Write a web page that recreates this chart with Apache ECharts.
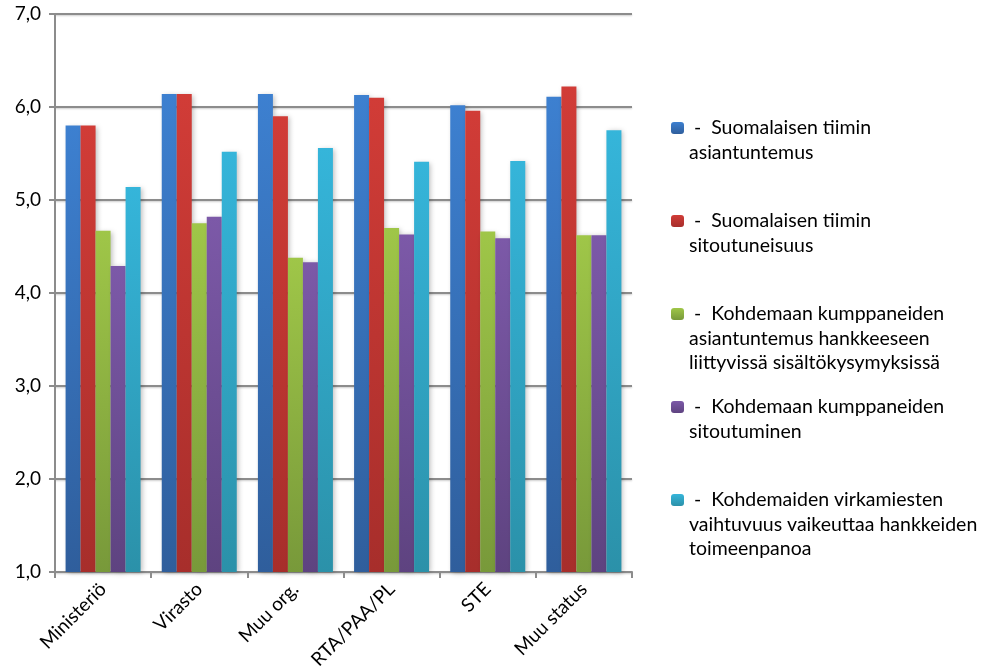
<!DOCTYPE html>
<html>
<head>
<meta charset="utf-8">
<script src="https://cdn.jsdelivr.net/npm/echarts@6/dist/echarts.min.js"></script>
<style>html,body{margin:0;padding:0;background:#fff}#c{width:985px;height:672px}</style>
</head>
<body>
<div id="c"></div>
<script>
var categories = ['Ministeriö', 'Virasto', 'Muu org.', 'RTA/PAA/PL', 'STE', 'Muu status'];
var seriesNames = [
  'Suomalaisen tiimin\nasiantuntemus',
  'Suomalaisen tiimin\nsitoutuneisuus',
  'Kohdemaan kumppaneiden\nasiantuntemus hankkeeseen\nliittyvissä sisältökysymyksissä',
  'Kohdemaan kumppaneiden\nsitoutuminen',
  'Kohdemaiden virkamiesten\nvaihtuvuus vaikeuttaa hankkeiden\ntoimeenpanoa'
];
var s1 = [5.80, 6.14, 6.14, 6.13, 6.02, 6.11];
var s2 = [5.80, 6.14, 5.90, 6.10, 5.96, 6.22];
var s3 = [4.67, 4.75, 4.38, 4.70, 4.66, 4.62];
var s4 = [4.29, 4.82, 4.33, 4.63, 4.59, 4.62];
var s5 = [5.14, 5.52, 5.56, 5.41, 5.42, 5.75];
var yTicks = [1, 2, 3, 4, 5, 6, 7];

var allData = [s1, s2, s3, s4, s5];
var colorsTop = ['#3d80d0', '#d13c37', '#9fc648', '#7c59a8', '#35b5da'];
var colorsBot = ['#2f5e9c', '#a72e2b', '#78993a', '#5e4380', '#2b91a9'];
var legendIconTop = [122, 215, 308, 401, 494];

function grad(i) {
  return new echarts.graphic.LinearGradient(0, 0, 0, 1, [
    {offset: 0, color: colorsTop[i]},
    {offset: 1, color: colorsBot[i]}
  ]);
}

var FONT = 'Lato';
var LH = 24.5;
var legends = seriesNames.map(function (name, i) {
  var n = name.split('\n').length;
  var boxH = (2 * n - 1) * LH;
  return {
    data: [name],
    orient: 'vertical',
    left: 671,
    top: legendIconTop[i] + 6 - boxH / 2,
    padding: 0,
    itemWidth: 13,
    itemHeight: 12,
    selectedMode: false,
    formatter: function (nm) {
      var parts = nm.split('\n');
      parts[0] = ' -  ' + parts[0];
      var pre = '';
      for (var k = 1; k < parts.length; k++) pre += ' \n';
      return pre + parts.join('\n');
    },
    textStyle: {
      fontFamily: FONT, fontSize: 19.5, color: '#000', lineHeight: LH
    }
  };
});

var series = allData.map(function (d, i) {
  return {
    name: seriesNames[i],
    type: 'bar',
    data: d,
    barGap: '0%',
    barCategoryGap: '22%',
    itemStyle: {
      color: grad(i),
      shadowBlur: 5,
      shadowColor: 'rgba(0,0,0,0.25)',
      shadowOffsetX: 2,
      shadowOffsetY: 1
    }
  };
});

var chart = echarts.init(document.getElementById('c'), null, {renderer: 'canvas'});
chart.setOption({
  animation: false,
  backgroundColor: '#fff',
  grid: {left: 55, right: 353, top: 14, bottom: 100, containLabel: false},
  legend: legends,
  xAxis: {
    type: 'category',
    data: categories,
    axisLine: {lineStyle: {color: '#8c8c8c', width: 2}},
    axisTick: {show: true, length: 6, lineStyle: {color: '#8c8c8c', width: 2}},
    axisLabel: {rotate: 45, fontFamily: FONT, fontSize: 19, color: '#000', margin: 14, interval: 0}
  },
  yAxis: {
    type: 'value',
    min: yTicks[0],
    max: yTicks[yTicks.length - 1],
    interval: 1,
    axisLine: {show: true, lineStyle: {color: '#8c8c8c', width: 2}},
    axisTick: {show: true, length: 6, lineStyle: {color: '#8c8c8c', width: 2}},
    axisLabel: {
      fontFamily: FONT, fontSize: 19, color: '#000', margin: 14,
      formatter: function (v) { return v.toFixed(1).replace('.', ','); }
    },
    splitLine: {lineStyle: {color: '#8c8c8c', width: 2, shadowBlur: 2, shadowColor: 'rgba(0,0,0,0.2)', shadowOffsetY: 1}}
  },
  series: series
});
</script>
</body>
</html>
